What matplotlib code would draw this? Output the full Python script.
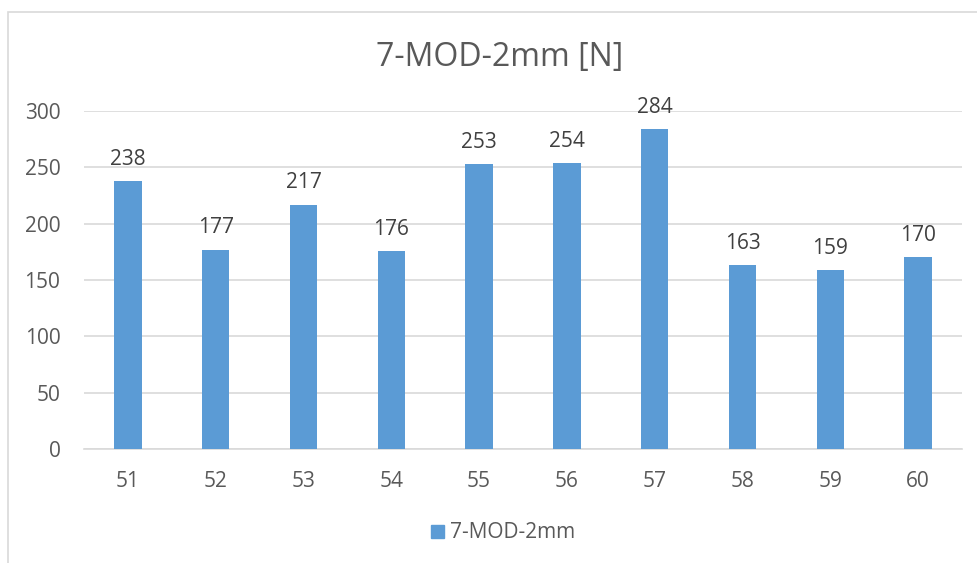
import matplotlib
matplotlib.use("Agg")
import matplotlib.pyplot as plt
from matplotlib.patches import Rectangle

plt.rcParams["font.family"] = ["Open Sans", "DejaVu Sans"]

categories = ["51", "52", "53", "54", "55", "56", "57", "58", "59", "60"]
values = [238, 177, 217, 176, 253, 254, 284, 163, 159, 170]
series_name = "7-MOD-2mm"
title = "7-MOD-2mm [N]"
yticks = [0, 50, 100, 150, 200, 250, 300]

BAR = "#5B9BD5"
TEXT = "#595959"
GRID = "#D9D9D9"

fig = plt.figure(figsize=(9.78, 5.63), dpi=100)
W, H = 978, 563

# chart frame (runs off the right/bottom edge)
fig.patches.append(Rectangle((8 / W, -0.01), 1.1, 1 - 12 / H + 0.01,
                             transform=fig.transFigure, fill=False,
                             edgecolor=GRID, linewidth=1.2))

ax = fig.add_axes([84 / W, 1 - 449 / H, (962 - 84) / W, (449 - 111) / H])
x = range(len(categories))
bars = ax.bar(x, values, width=0.31, color=BAR, zorder=3)
ax.bar_label(bars, labels=[str(v) for v in values], padding=8,
             fontsize=15, color="#404040")

ax.set_xlim(-0.5, len(categories) - 0.5)
ax.set_ylim(0, 300)
ax.set_yticks(yticks)
ax.set_xticks(list(x))
ax.set_xticklabels(categories)
ax.yaxis.grid(True, color=GRID, linewidth=1.2, zorder=0)
ax.tick_params(axis="both", length=0, labelsize=15, labelcolor=TEXT)
ax.tick_params(axis="x", pad=16)
ax.tick_params(axis="y", pad=17)
for side in ("top", "right", "left"):
    ax.spines[side].set_visible(False)
ax.spines["bottom"].set_color(GRID)
ax.spines["bottom"].set_linewidth(1.2)

fig.text(500 / W, 1 - 58 / H, title, ha="center", va="center",
         fontsize=23, color=TEXT)

leg = fig.legend([Rectangle((0, 0), 1, 1, color=BAR)], [series_name],
                 loc="center", bbox_to_anchor=(503 / W, 1 - 533 / H),
                 frameon=False, fontsize=15, handlelength=0.6,
                 handleheight=0.6, handletextpad=0.3)
for t in leg.get_texts():
    t.set_color(TEXT)

fig.savefig("out.png", dpi=100)
